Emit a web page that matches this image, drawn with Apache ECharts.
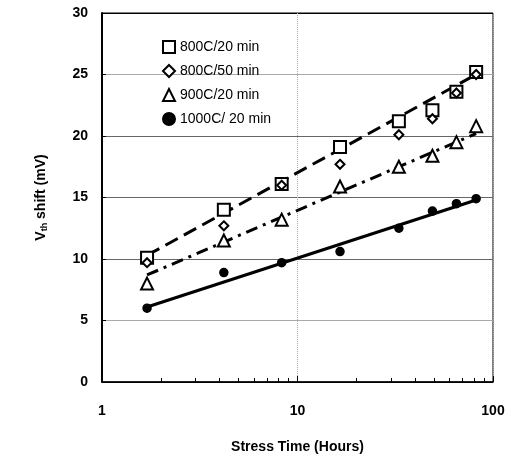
<!DOCTYPE html>
<html lang="en">
<head>
    <meta charset="UTF-8">
    <title>Vth shift vs stress time</title>
    <script src="https://cdn.jsdelivr.net/npm/echarts@6/dist/echarts.min.js"></script>
    <style>
        body { margin: 0; background: #fff; }
    </style>
</head>
<body>
    <div id="main" style="width: 516px;height:464px;"></div>
    <script>
        // stress times (hours) and measured shifts (mV)
        const times = [1.7, 4.2, 8.3, 16.5, 33, 49, 65, 82];
        const s800c20 = [10.1, 14.0, 16.1, 19.1, 21.2, 22.1, 23.6, 25.2];
        const s800c50 = [9.7, 12.7, 16.0, 17.7, 20.1, 21.4, 23.5, 25.0];
        const s900c20 = [8.0, 11.5, 13.2, 15.9, 17.5, 18.4, 19.5, 20.8];
        const s1000c20 = [6.0, 8.9, 9.7, 10.6, 12.5, 13.9, 14.5, 14.9];

        // fitted trend lines (end points)
        const fitTimes = [1.7, 82];
        const fit800 = [10.3, 25.0];
        const fit900 = [8.7, 20.2];
        const fit1000 = [6.1, 14.8];

        const names = ['800C/20 min', '800C/50 min', '900C/20 min', '1000C/ 20 min'];

        function pairs(xs, ys) {
            return xs.map((x, i) => [x, ys[i]]);
        }

        var font = '"Liberation Sans", Arial, sans-serif';
        var chart = echarts.init(document.getElementById('main'));

        function scatter(name, vals, symbol, size) {
            return {
                name: name,
                type: 'scatter',
                data: pairs(times, vals),
                symbol: symbol,
                symbolSize: size,
                itemStyle: { color: '#000', borderColor: '#000', borderWidth: 1.5, opacity: 1 },
                z: 5
            };
        }

        function fitLine(vals, type, width) {
            return {
                type: 'line',
                data: pairs(fitTimes, vals),
                symbol: 'none',
                lineStyle: { color: '#000', width: width, type: type },
                z: 3
            };
        }

        var option = {
            backgroundColor: '#fff',
            animation: false,
            grid: {
                left: 102, right: 23, top: 13, bottom: 82,
                show: true, borderColor: '#000', borderWidth: 1
            },
            legend: {
                data: names,
                orient: 'vertical',
                left: 157, top: 35,
                itemWidth: 12, itemHeight: 12, itemGap: 10,
                textStyle: { fontFamily: font, fontSize: 14, color: '#000' }
            },
            xAxis: {
                type: 'log',
                logBase: 10,
                min: 1, max: 100,
                name: 'Stress Time (Hours)',
                nameLocation: 'middle',
                nameGap: 58,
                nameTextStyle: { fontFamily: font, fontSize: 14, fontWeight: 'bold', color: '#000' },
                axisLine: { lineStyle: { color: '#000', width: 1.5 } },
                axisTick: { inside: true, length: 6, lineStyle: { color: '#000' } },
                minorTick: { show: true, splitNumber: 9, length: 4, lineStyle: { color: '#000' } },
                axisLabel: { margin: 22, fontFamily: font, fontSize: 14, fontWeight: 'bold', color: '#000' },
                splitLine: { show: true, lineStyle: { color: '#aaa', type: 'dotted' } }
            },
            yAxis: {
                type: 'value',
                min: 0, max: 30, interval: 5,
                name: '{a|V}{b|th}{a| shift (mV)}',
                nameLocation: 'middle',
                nameGap: 53,
                nameTextStyle: {
                    rich: {
                        a: { fontFamily: font, fontSize: 14, fontWeight: 'bold', color: '#000' },
                        b: { fontFamily: font, fontSize: 9, fontWeight: 'bold', color: '#000', verticalAlign: 'bottom', padding: [6, 0, 0, 0] }
                    }
                },
                axisLine: { lineStyle: { color: '#000', width: 2 } },
                axisTick: { inside: true, length: 4, lineStyle: { color: '#000' } },
                axisLabel: { margin: 14, fontFamily: font, fontSize: 14, fontWeight: 'bold', color: '#000' },
                splitLine: {
                    show: true,
                    lineStyle: { color: ['#000', '#aaa', '#666', '#666', '#666', '#aaa', '#000'], width: 1 }
                }
            },
            series: [
                scatter(names[0], s800c20, 'emptyRect', 12),
                scatter(names[1], s800c50, 'emptyDiamond', 9),
                scatter(names[2], s900c20, 'emptyTriangle', 12),
                scatter(names[3], s1000c20, 'circle', 8),
                fitLine(fit800, [14, 7], 3),
                fitLine(fit900, [12, 6, 3, 6], 3),
                fitLine(fit1000, 'solid', 3)
            ]
        };

        chart.setOption(option);
    </script>
</body>
</html>
